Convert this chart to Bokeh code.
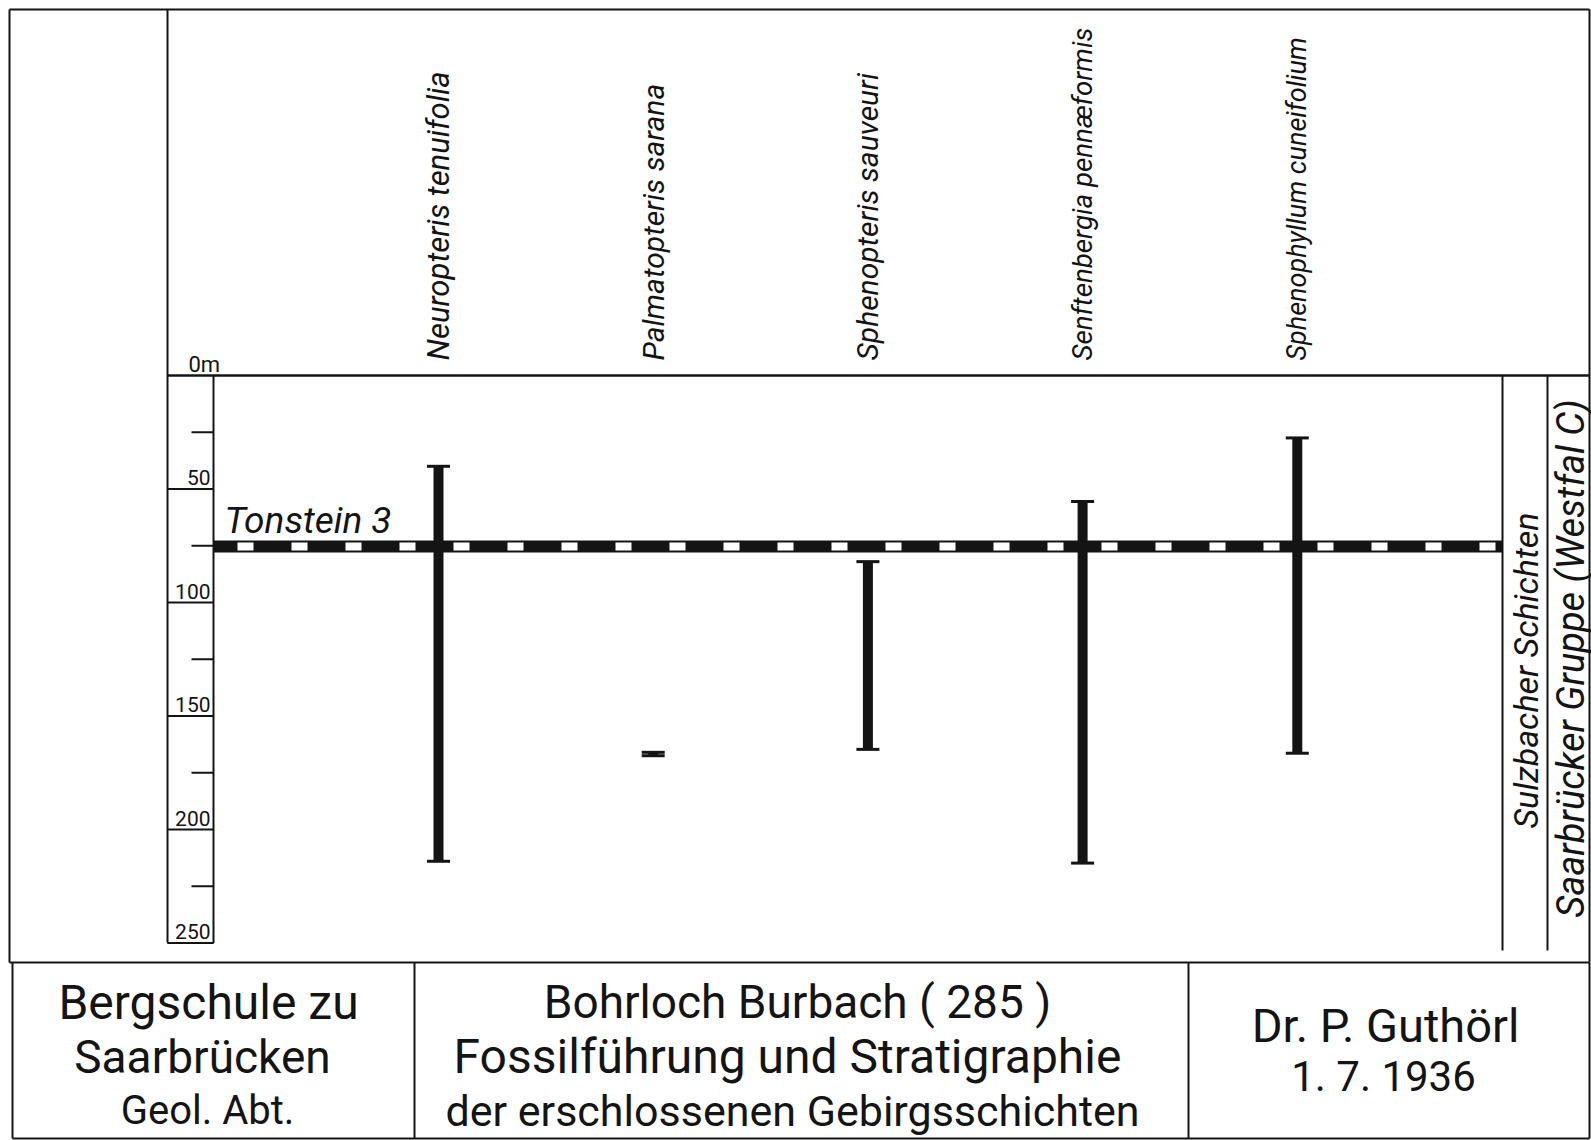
import numpy as np
from bokeh.plotting import figure
from bokeh.models import Range1d
from bokeh.core.properties import value
from bokeh.embed import file_html
from bokeh.resources import INLINE

# ---------------- data ----------------
species = ["Neuropteris tenuifolia", "Palmatopteris sarana", "Sphenopteris sauveuri",
           "Senftenbergia pennæformis", "Sphenophyllum cuneifolium"]
species_pos = [1, 2, 3, 4, 5]
range_top = [40.0, 166.0, 82.0, 55.5, 27.5]        # m, upper end of occurrence
range_bottom = [214.0, 167.5, 164.7, 214.8, 166.4]  # m, lower end of occurrence
tonstein_depth = 75.3
tonstein_label = "Tonstein 3"
major_ticks = [50, 100, 150, 200, 250]
minor_ticks = [25, 75, 125, 175, 225]
tick_labels = ["50", "100", "150", "200", "250"]
unit_label = "0m"
strat_labels = ["Sulzbacher Schichten", "Saarbrücker Gruppe (Westfal C)"]
box_left = ["Bergschule zu", "Saarbrücken", "Geol. Abt."]
box_mid = ["Bohrloch Burbach ( 285 )", "Fossilführung und Stratigraphie",
           "der erschlossenen Gebirgsschichten"]
box_right = ["Dr. P. Guthörl", "1. 7. 1936"]

# ---------------- layout helpers ----------------
W, H = 1591, 1140
PX_PER_M = 2.27
ZERO_FY = 375.0
COL_PX = 214.7
COL1_FX = 438.0
INK = "#141414"
FONT = "Roboto"


def X(px):
    return 1 + (px - COL1_FX) / COL_PX


def Y(py):
    return (py - ZERO_FY) / PX_PER_M


p = figure(width=W, height=H,
           x_range=Range1d(X(0), X(W)),
           y_range=Range1d(Y(H), Y(0)),
           output_backend="svg", toolbar_location=None, min_border=0,
           x_axis_location=None, y_axis_location=None)
p.grid.visible = False
p.outline_line_color = None
p.background_fill_color = "white"
p.border_fill_color = "white"

# frame lines (page coords)
frame = [
    (9, 9, 1589, 9), (9, 9, 9, 962), (1589, 9, 1589, 962), (9, 962, 1589, 962),
    (12, 962, 12, 1138), (12, 1138, 1589, 1138), (1589, 962, 1589, 1138),
    (414, 962, 414, 1138), (1188, 962, 1188, 1138),
    (167, 9, 167, 942),
    (1502, 375, 1502, 950), (1547, 375, 1547, 950),
]
p.segment(x0=[X(a) for a, b, c, d in frame], y0=[Y(b) for a, b, c, d in frame],
          x1=[X(c) for a, b, c, d in frame], y1=[Y(d) for a, b, c, d in frame],
          line_color=INK, line_width=2)

# zero line / top of section
p.segment(x0=[X(167)], y0=[0], x1=[X(1589)], y1=[0], line_color=INK, line_width=2.5)
# depth axis line and box bottom
p.segment(x0=[X(213), X(167)], y0=[0, 250], x1=[X(213), X(213)], y1=[250, 250],
          line_color=INK, line_width=2)
# ticks
p.segment(x0=[X(167)] * len(major_ticks), y0=major_ticks, x1=[X(213)] * len(major_ticks),
          y1=major_ticks, line_color=INK, line_width=2)
p.segment(x0=[X(191)] * len(minor_ticks), y0=minor_ticks, x1=[X(213)] * len(minor_ticks),
          y1=minor_ticks, line_color=INK, line_width=2)
p.text(x=[X(210)] * len(major_ticks), y=major_ticks, text=tick_labels,
       text_font=value(FONT), text_font_size="21px", text_align="right",
       text_baseline="bottom", y_offset=-4, text_color=INK)
p.text(x=[X(188)], y=[0], text=[unit_label], text_font=value(FONT), text_font_size="22px",
       text_align="left", text_baseline="bottom", y_offset=1, text_color=INK)

# Tonstein band
p.segment(x0=[X(213)], y0=[tonstein_depth], x1=[X(1502)], y1=[tonstein_depth],
          line_color=INK, line_width=12, line_cap="butt")
p.segment(x0=[X(213)], y0=[tonstein_depth], x1=[X(1502)], y1=[tonstein_depth],
          line_color="white", line_width=8, line_cap="butt", line_dash="16 38",
          line_dash_offset=30)
p.text(x=[X(224)], y=[Y(520)], text=[tonstein_label], text_font=value(FONT),
       text_font_size="37px", text_font_style="italic", text_align="left",
       text_baseline="alphabetic", text_color=INK)

# range bars
p.segment(x0=species_pos, y0=range_top, x1=species_pos, y1=range_bottom,
          line_color=INK, line_width=10, line_cap="butt")
p.rect(x=species_pos, y=range_top, width=23, height=3, width_units="screen",
       height_units="screen", fill_color=INK, line_color=None)
p.rect(x=species_pos, y=range_bottom, width=23, height=3, width_units="screen",
       height_units="screen", fill_color=INK, line_color=None)

# species names (rotated)
p.text(x=species_pos, y=[Y(360)] * len(species), text=species, angle=np.pi / 2,
       text_font=value(FONT), text_font_size=["31px", "30px", "30px", "27.7px", "27px"],
       text_font_style="italic", text_align="left", text_baseline="middle", text_color=INK)

# stratigraphic column labels
p.text(x=[X(1525), X(1570)], y=[Y(670), Y(658)], text=strat_labels, angle=np.pi / 2,
       text_font=value(FONT), text_font_size=["34px", "38px"], text_font_style="italic",
       text_align="center", text_baseline="middle", text_color=INK)

# title block
p.text(x=[X(208), X(202), X(207)], y=[Y(1002), Y(1056), Y(1110)], text=box_left,
       text_font=value(FONT), text_font_size=["48px", "46px", "40px"], text_align="center",
       text_baseline="middle", text_color=INK)
p.text(x=[X(797), X(787), X(792)], y=[Y(1001), Y(1056), Y(1110)], text=box_mid,
       text_font=value(FONT), text_font_size=["46px", "48px", "43px"], text_align="center",
       text_baseline="middle", text_color=INK)
p.text(x=[X(1385), X(1383)], y=[Y(1025), Y(1076)], text=box_right,
       text_font=value(FONT), text_font_size=["47px", "42px"], text_align="center",
       text_baseline="middle", text_color=INK)

open("out.html", "w").write(file_html(p, INLINE))
